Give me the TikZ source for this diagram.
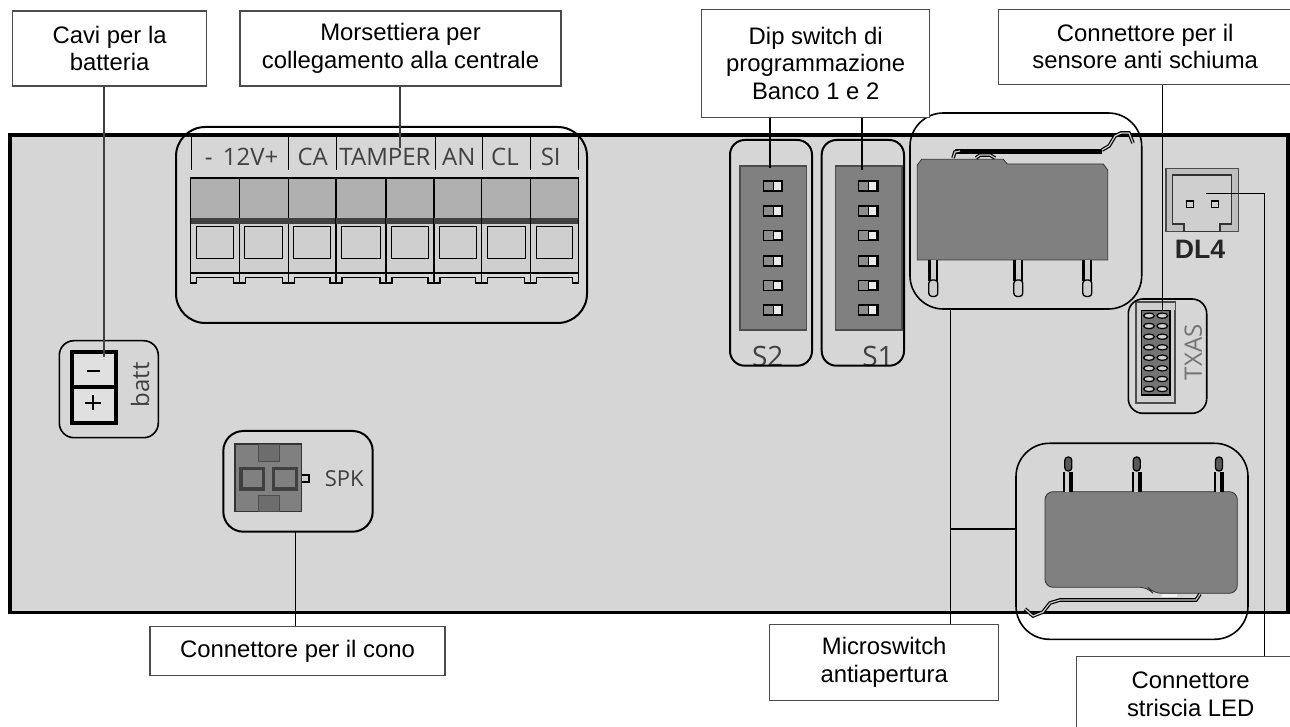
\documentclass[tikz,border=0pt]{standalone}
\usepackage{fontspec}
\setmainfont{Liberation Sans}
\newfontfamily\serigrafia{Open Sans}
\usetikzlibrary{fit}
\definecolor{scheda}{HTML}{D6D6D6}
\definecolor{scuro}{HTML}{808080}
\definecolor{medio}{HTML}{B0B0B0}
\definecolor{chiaro}{HTML}{CFCFCF}
\definecolor{scritta}{HTML}{404040}
\def\px{0.75pt}

\begin{document}
\begin{tikzpicture}[x=0.75pt,y=-0.75pt,
  etichetta/.style={rectangle, draw=black!70, line width=0.8pt, fill=white, align=center, inner sep=0pt,
                    font=\fontsize{17.9}{20.6}\selectfont},
  zona/.style={rectangle, rounded corners=22pt, draw, line width=1.5pt, inner sep=0pt},
  zonetta/.style={zona, rounded corners=11pt},
  filo/.style={line width=1.1pt},
  serigr/.style={inner sep=0pt, text=scritta, font=\serigrafia\fontsize{18}{18}\selectfont},
  leva/.style={draw=black, line width=0.9pt, double=chiaro, double distance=0.9pt}]
\useasboundingbox (0,0) rectangle (1290,727);
\draw[fill=scheda, line width=2.3pt] (10,135) rectangle (1288,612.7);

\foreach \a/\b in {190.7/239.3,239.3/288.3,288.3/336,336/386,386/434,434/481.7,481.7/530.7,530.7/578.3}{
  \draw[fill=medio, line width=0.8pt] (\a,178) rectangle (\b,219);
  \draw[fill=chiaro, line width=0.8pt] (\a,219) rectangle (\b,273);
  \fill[black!75] (\a,218.3) rectangle (\b,224);
  \draw[line width=1.4pt] (\a+5,178) -- (\b-5,178);
  \draw[line width=1pt] (\a+5.5,226.7) rectangle (\b-5.5,258.3);
  \draw[line width=0.8pt] (\a,273) -- (\a,283) -- (\a+6,283) -- (\a+6,277.5) -- (\b-6,277.5) -- (\b-6,283) -- (\b,283) -- (\b,273);
}
\foreach \a in {191.7,288.3,336,435,482.7,530,578.3}
  \draw[line width=0.7pt] (\a,137) -- (\a,170);
\node[serigr] (t12v) at (241.7,156.7) {- \,12V+};
\node[serigr] (tca) at (312.7,156.7) {CA};
\node[serigr] (ttamper) at (385,156.7) {TAMPER};
\node[serigr] (tan) at (458.7,156.7) {AN};
\node[serigr] (tcl) at (505,156.7) {CL};
\node[serigr] (tsi) at (550.7,156.7) {SI};

\foreach \a in {740,835.3}{
  \draw[fill=scuro, draw=black!70, line width=0.9pt] (\a,166) rectangle (\a+66.7,330);
  \foreach \b in {186,211,235.7,261,285.7,310}{
    \fill[black] (\a+22.7,\b-5.8) rectangle (\a+43.3,\b+5.8);
    \fill[scuro!90] (\a+24,\b-4.2) rectangle (\a+32.5,\b+4.2);
    \fill[black!8] (\a+33.5,\b-3.6) rectangle (\a+41,\b+3.6);
  }
}
\node[serigr, font=\serigrafia\fontsize{21}{22}\selectfont] (s2) at (767.7,356) {S2};
\node[serigr, font=\serigrafia\fontsize{21}{22}\selectfont] (s1) at (878,356) {S1};

\fill[scuro, draw=black!80, line width=0.6pt] (917.3,260) -- (917.3,165) -- (921.7,159.3) -- (1003.3,159.3) -- (1007.3,164) -- (1103.3,164) -- (1107.7,170) -- (1107.7,260) -- cycle;
\draw[line width=3.8pt] (955,151.5) -- (1102,151.5);
\draw[leva] (953,158) -- (955,152) -- (960,151);
\draw[leva] (976,158) -- (980,155) -- (990,155) -- (995,158);
\draw[leva] (1102,150) -- (1109,146) -- (1115,136) -- (1121,133) -- (1129,133) -- (1133,143);
\foreach \a in {933.3,1018.3,1087.3}{
  \fill[black] (\a-5,260) rectangle (\a+5,281);
  \fill[chiaro] (\a-2.4,260) rectangle (\a+2.4,281);
  \draw[fill=chiaro, line width=1pt, rounded corners=2.5pt] (\a-4.5,280) rectangle (\a+4.5,296.5);
}

\fill[scuro, draw=black!80, line width=0.6pt, rounded corners=6pt] (1045,491.7) -- (1237.3,491.7) -- (1237.3,593.3) -- (1153,593.3) -- (1148,587.3) -- (1045,587.3) -- cycle;
\fill[black!5] (1162,593.5) rectangle (1177,597);
\draw[leva] (1200,594) -- (1196,600) -- (1060,600) -- (1050,603) -- (1043,612) -- (1033,616) -- (1025,609);
\foreach \a in {1068.3,1136.7,1219}{
  \fill[black] (\a-5,472) rectangle (\a+5,491.7);
  \fill[chiaro] (\a-3,470) rectangle (\a+1,491.7);
  \draw[fill=black!65, line width=1pt, rounded corners=2.5pt] (\a-3.5,457) rectangle (\a+3.5,471);
}

\draw[fill=black!25, draw=black!70, line width=1pt] (1166,168.3) rectangle (1238.7,231.7);
\draw[fill=chiaro, draw=black!80, line width=1pt] (1172.7,175) -- (1231.7,175) -- (1231.7,224) -- (1220,224) -- (1220,231.7) -- (1184,231.7) -- (1184,224) -- (1172.7,224) -- cycle;
\draw[line width=0.8pt] (1186.7,201) rectangle (1193.3,207.6);
\draw[line width=0.8pt] (1211.7,201) rectangle (1218.3,207.6);
\node[inner sep=0pt, font=\bfseries\fontsize{20}{20}\selectfont, text=black!85] (dl4) at (1200,249) {DL4};

\draw[draw=black!70, fill=chiaro, line width=0.8pt] (1136,302) rectangle (1175,403);
\draw[fill=black!55, line width=0.8pt] (1141.7,310.7) rectangle (1170,395);
\fill[chiaro] (1136.5,303) rectangle (1143,310);
\fill[chiaro] (1168.5,303) rectangle (1174.5,310);
\foreach \b in {315.7,326,336.7,347.3,357.7,368.3,379,389}{
  \draw[fill=chiaro, line width=0.9pt] (1149,\b) ellipse (4pt and 2pt);
  \draw[fill=chiaro, line width=0.9pt] (1162.3,\b) ellipse (4pt and 2pt);
}
\node[serigr, rotate=90, text=black!55] (txas) at (1193.3,352.3) {TXAS};

\draw[fill=black!12, draw=black, line width=3pt] (71.5,352) rectangle (116,387.3);
\draw[fill=black!12, draw=black, line width=3pt] (71.5,387.3) rectangle (116,423);
\draw[line width=1.7pt] (86.5,370.7) -- (100,370.7);
\draw[line width=1.7pt] (85,402.7) -- (100.5,402.7) (92.7,395) -- (92.7,410.5);
\node[serigr, rotate=90] (batt) at (140,385) {batt};

\draw[fill=scuro, draw=black!80, line width=0.8pt] (235,444) rectangle (301.7,511.7);
\draw[fill=scuro!115!white, draw=black!70, line width=0.7pt] (258.3,444) rectangle (279.3,461.7);
\draw[fill=scuro!115!white, draw=black!70, line width=0.7pt] (258.3,495.5) rectangle (279.3,511.7);
\draw[fill=scuro, draw=black!75, line width=2.6pt] (241,468.5) rectangle (263.5,489);
\draw[fill=scuro, draw=black!75, line width=2.6pt] (273.5,468.5) rectangle (296.5,489);
\draw[fill=chiaro, line width=1.2pt] (301.7,475) -- (309,475) -- (309,482) -- (301.7,482);
\node[serigr, font=\serigrafia\fontsize{16.5}{17}\selectfont] (spk) at (344.3,478.3) {SPK};

\node[zona, fit={(176,127)(587,323)}] (zmorsetti) {};
\node[zonetta, fit={(730,140)(812,365.7)}] (zs2) {};
\node[zonetta, fit={(821.7,140)(904,365.7)}] (zs1) {};
\node[zona, rounded corners=25pt, line width=1.2pt, fit={(910,113)(1141.7,309)}] (zmicroa) {};
\node[zona, rounded corners=25pt, line width=1.2pt, fit={(1016,443.3)(1248,639.3)}] (zmicrob) {};
\node[zonetta, line width=1.2pt, fit={(1128.3,299)(1206.7,413.3)}] (ztxas) {};
\node[zonetta, line width=1.2pt, fit={(59.3,340.7)(158.3,437.7)}] (zbatt) {};
\node[zona, rounded corners=15pt, fit={(223.3,431)(372.7,531.7)}] (zspk) {};

\node[etichetta, minimum width=194*\px, minimum height=75*\px] (cavi) at (109.6,48.5) {Cavi per la\\batteria};
\node[etichetta, minimum width=321*\px, minimum height=75*\px] (morsetti) at (400.5,48.5) {Morsettiera per\\collegamento alla centrale};
\node[etichetta, minimum width=228.5*\px, minimum height=107.7*\px] (dip) at (815.7,63.2) {Dip switch di\\programmazione\\Banco 1 e 2};
\node[etichetta, minimum width=293*\px, minimum height=75*\px] (sensore) at (1145.2,46.7) {Connettore per il\\sensore anti schiuma};
\node[etichetta, minimum width=295*\px, minimum height=49.3*\px] (cono) at (297.5,651.3) {Connettore per il cono};
\node[etichetta, minimum width=228.5*\px, minimum height=76.4*\px] (micro) at (884.2,662.5) {Microswitch\\antiapertura};
\node[etichetta, minimum width=228*\px, minimum height=75.6*\px] (striscia) at (1190.7,694.5) {Connettore\\striscia LED};

\coordinate (fbatt) at (104,356.7);
\coordinate (fmorsetti) at (400,148);
\coordinate (fs2) at (770,168);
\coordinate (fs1) at (862,170);
\coordinate (ftxas) at (1162.3,310);
\coordinate (fspk) at (295.7,531.7);
\coordinate (fmicro) at (950.3,529);
\coordinate (fdl4) at (1206,193.3);
\coordinate (fled) at (1264.3,193.3);
\draw[filo, black!75] (cavi.south -| fbatt) -- (fbatt);
\draw[filo, black!75] (morsetti.south -| fmorsetti) -- (fmorsetti);
\draw[filo] (dip.south -| fs2) -- (fs2);
\draw[filo] (dip.south -| fs1) -- (fs1);
\draw[filo] (sensore.south -| ftxas) -- (ftxas);
\draw[filo] (fspk) -- (cono.north -| fspk);
\draw[filo] (zmicroa.south -| fmicro) -- (micro.north -| fmicro);
\draw[filo] (fmicro) -- (fmicro -| zmicrob.west);
\draw[filo] (fdl4) -- (fled) -- (striscia.north -| fled);
\end{tikzpicture}
\end{document}
